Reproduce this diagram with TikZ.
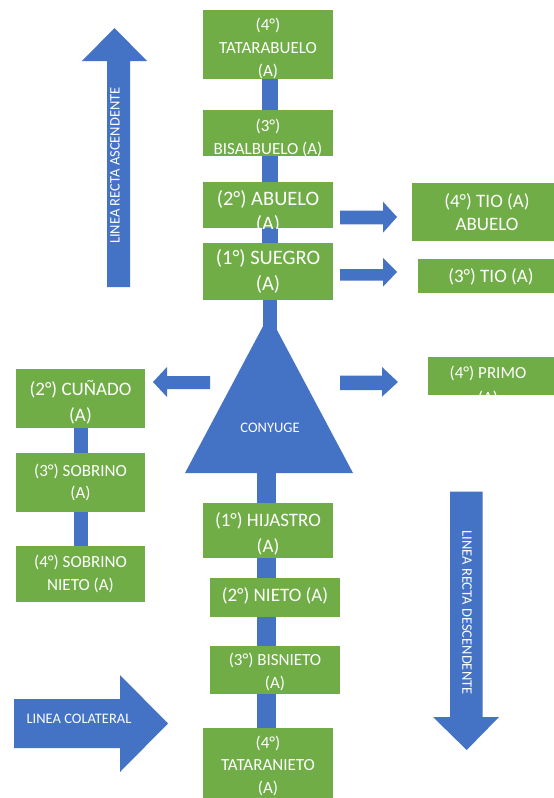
\documentclass[tikz,border=0pt]{standalone}
\usepackage{fontspec}
\setmainfont{Carlito}
\definecolor{gr}{RGB}{112,173,71}
\definecolor{bl}{RGB}{68,114,196}
\newcommand\myfs[2]{\fontsize{#1}{#2}\selectfont}
\begin{document}
\begin{tikzpicture}[x=1pt,y=-1pt,
 gbox/.style={fill=gr, text=white, align=center, inner sep=0pt},
 gtext/.style={text=white, align=center, inner sep=0pt},
 conn/.style={draw=bl, line width=16pt},
 connb/.style={draw=bl, line width=19pt},
 connl/.style={draw=bl, line width=14pt},
 barrow/.style={fill=bl},
 btxt/.style={text=white, inner sep=0pt, font=\myfs{14.5}{17}}]
\clip (0,0) rectangle (554,798);
\fill[white] (0,0) rectangle (554,798);

% triangle coordinates
\coordinate (tA) at (269,315);
\coordinate (tL) at (185,473);
\coordinate (tR) at (353,473);
\coordinate (tB) at (269,473);

% green boxes (upper column)
\node[gbox, minimum width=130pt, minimum height=69pt] (tat) at (268,44.5) {};
\node[gtext, font=\myfs{17}{23}] (tatt) at (268,48.5) {(4°)\\TATARABUELO\\(A)};
\node[gbox, minimum width=130pt, minimum height=46pt] (bis) at (268,133) {};
\node[gtext, font=\myfs{17}{23}] (bist) at (268,137.5) {(3°)\\BISALBUELO (A)};
\node[gbox, minimum width=130pt, minimum height=46pt] (abu) at (268,205) {};
\node[gbox, minimum width=130pt, minimum height=57pt, font=\myfs{20.5}{26.5}] (sue) at (268,271.5) {(1°) SUEGRO\\(A)};

% connectors (upper)
\draw[conn] ([xshift=2pt]tat.south) -- ([xshift=2pt]bis.north);
\draw[conn] ([xshift=2pt]bis.south) -- ([xshift=2pt]abu.north);
\draw[conn] ([xshift=2pt]abu.south) -- ([xshift=2pt]sue.north);
\draw[draw=bl, line width=14pt] ([xshift=2pt]sue.south) -- ([xshift=1pt,yshift=-25pt]tA);

% clipped text of ABUELO
\begin{scope}
\clip (abu.south west) rectangle (abu.north east);
\node[gtext, font=\myfs{20.5}{25}] (abut) at (268,211.5) {(2°) ABUELO\\(A)};
\end{scope}

% triangle
\fill[bl] (tA) -- (tL) -- (tR) -- cycle;
\node[btxt] (cony) at (270,428) {CONYUGE};

% right boxes
\node[gbox, minimum width=150pt, minimum height=58pt, font=\myfs{19}{23}] (tioab) at (487,211.7) {(4°) TIO (A)\\ABUELO};
\node[gbox, minimum width=147pt, minimum height=34pt, font=\myfs{19}{23}] (tio) at (491,276.4) {(3°) TIO (A)};
\node[gbox, minimum width=132pt, minimum height=38pt] (primo) at (494,376) {};
\begin{scope}
\clip (primo.south west) rectangle (primo.north east);
\node[gtext, font=\myfs{17}{25.5}] (primot) at (488,386) {(4°) PRIMO\\(A)};
\end{scope}

% left column
\node[gbox, minimum width=129pt, minimum height=59pt] (cun) at (80.5,398.5) {};
\node[gtext, font=\myfs{19}{26}] (cunt) at (80.5,402.5) {(2°) CUÑADO\\(A)};
\node[gbox, minimum width=129pt, minimum height=59pt, font=\myfs{17}{22.5}] (sob) at (80.5,482.5) {(3°) SOBRINO\\(A)};
\node[gbox, minimum width=129pt, minimum height=56pt, font=\myfs{17}{23}] (sobn) at (80.5,574) {(4°) SOBRINO\\NIETO (A)};
\draw[connl] (cun.south) -- (sob.north);
\draw[connl] (sob.south) -- (sobn.north);

% lower column
\node[gbox, minimum width=130pt, minimum height=55pt] (hij) at (268,530.5) {};
\node[gtext, font=\myfs{19}{26}] (hijt) at (268,533.5) {(1°) HIJASTRO\\(A)};
\node[gbox, minimum width=130pt, minimum height=39pt] (nie) at (275,597.5) {};
\node[gtext, font=\myfs{19}{23}] (niet) at (275,595.5) {(2°) NIETO (A)};
\node[gbox, minimum width=130pt, minimum height=48pt] (bisn) at (275,670) {};
\node[gtext, font=\myfs{17}{22.5}] (bisnt) at (275,672) {(3°) BISNIETO\\(A)};
\node[gbox, minimum width=130pt, minimum height=75pt, font=\myfs{17}{22.5}] (tatn) at (268,765.5) {(4°)\\TATARANIETO\\(A)};
\draw[connb] ([xshift=-2.5pt]tB) -- ([xshift=-1.5pt]hij.north);
\draw[connb] ([xshift=-1.5pt]hij.south) -- ([xshift=-8.5pt]nie.north);
\draw[connb] ([xshift=-8.5pt]nie.south) -- ([xshift=-8.5pt]bisn.north);
\draw[connb] ([xshift=-8.5pt]bisn.south) -- ([xshift=-1.5pt]tatn.north);

% small block arrows
\fill[barrow] (340,210.7) -- (383,210.7) -- (383,201.7) -- (397,217) -- (383,232.7) -- (383,224.3) -- (340,224.3) -- cycle;
\fill[barrow] (340,269) -- (383,269) -- (383,258) -- (397,272) -- (383,286.7) -- (383,280.7) -- (340,280.7) -- cycle;
\fill[barrow] (340,375.7) -- (382,375.7) -- (382,367) -- (398,382) -- (382,396.7) -- (382,390) -- (340,390) -- cycle;
\fill[barrow] (210,376) -- (167,376) -- (167,367) -- (153,382) -- (167,397) -- (167,389) -- (210,389) -- cycle;

% big arrows
\fill[barrow] (107,287) -- (107,61) -- (82,61) -- (114.5,28) -- (147,61) -- (130,61) -- (130,287) -- cycle;
\node[btxt, rotate=90] (asc) at (115,165.5) {LINEA RECTA ASCENDENTE};
\fill[barrow] (450,491.7) -- (482.7,491.7) -- (482.7,717) -- (499,717) -- (466.7,750) -- (433,717) -- (450,717) -- cycle;
\node[btxt, rotate=-90] (desc) at (467,612.5) {LINEA RECTA DESCENDENTE};
\fill[barrow] (14,699) -- (120,699) -- (120,675) -- (168,723.5) -- (120,772) -- (120,748) -- (14,748) -- cycle;
\node[btxt] (col) at (79,719) {LINEA COLATERAL};
\end{tikzpicture}
\end{document}
